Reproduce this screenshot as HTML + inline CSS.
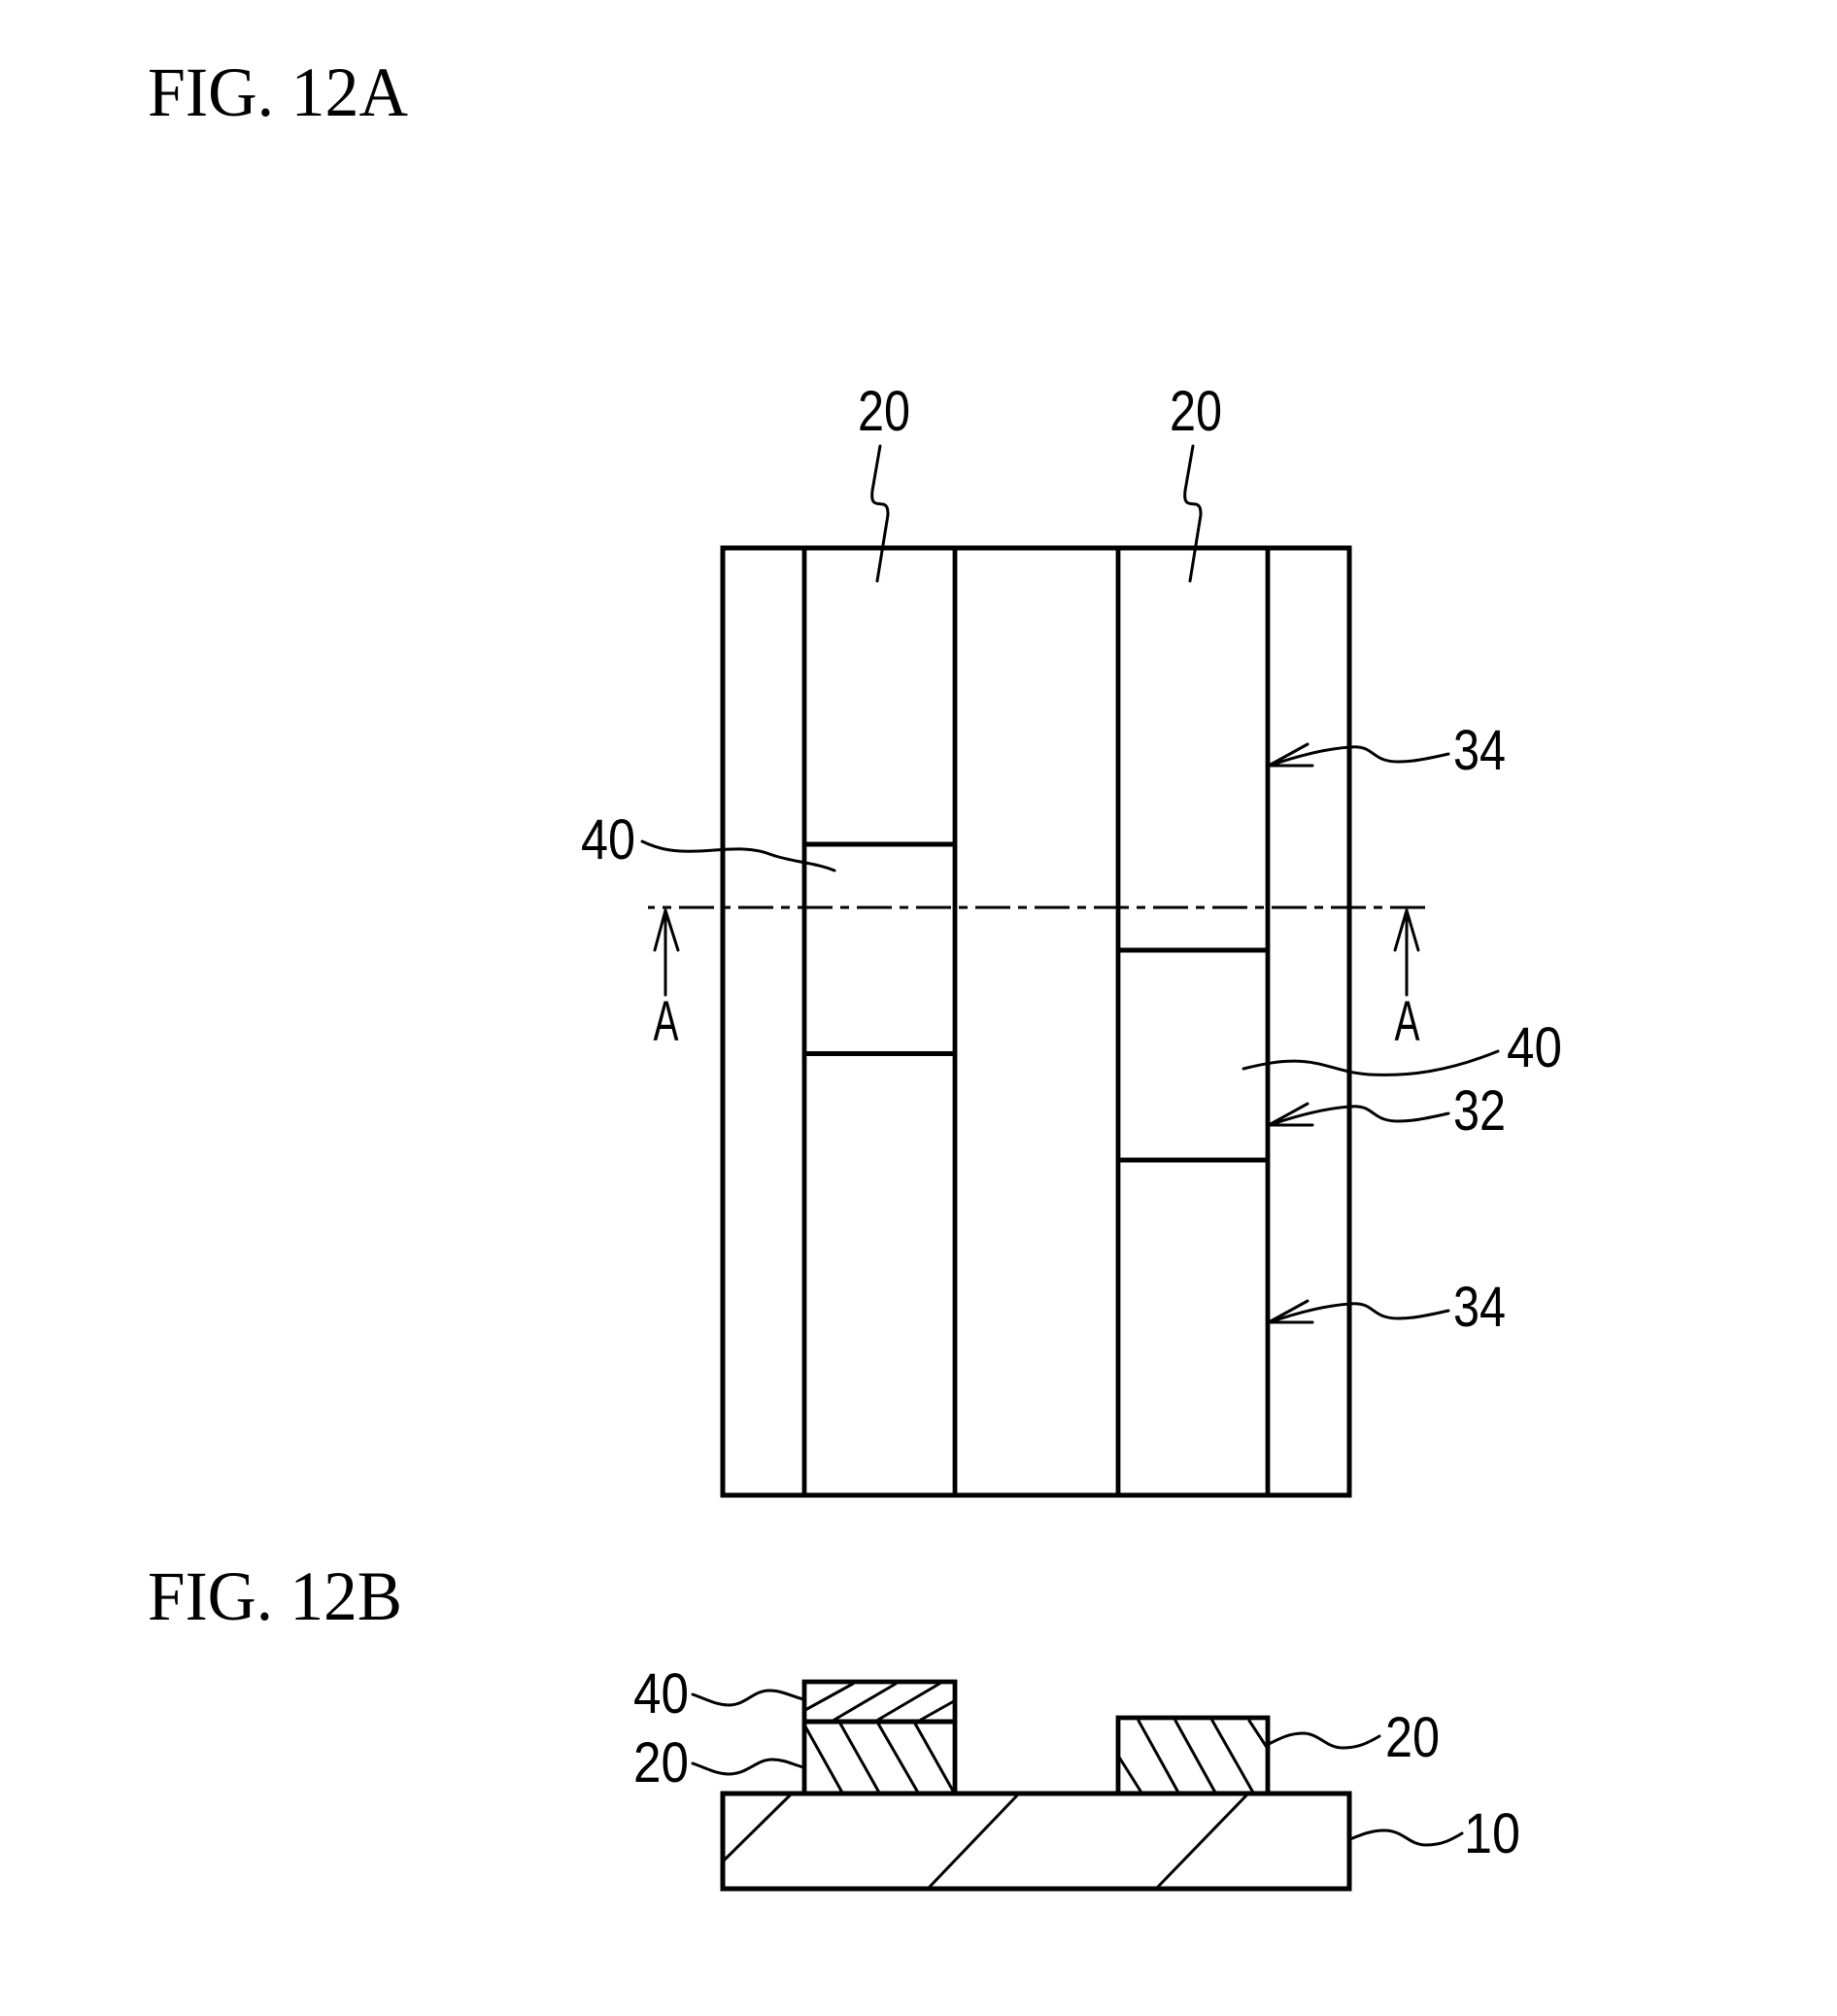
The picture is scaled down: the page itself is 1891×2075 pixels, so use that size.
<!DOCTYPE html>
<html><head><meta charset="utf-8"><title>FIG. 12</title>
<style>html,body{margin:0;padding:0;background:#fff}svg{display:block}
.c{fill:none;stroke:#000;stroke-width:3;stroke-linecap:round;stroke-linejoin:round}
.t{font-family:"Liberation Sans",sans-serif;fill:#000}
.f{font-family:"Liberation Serif",serif;font-size:72px;fill:#000}
</style></head><body>
<svg xmlns="http://www.w3.org/2000/svg" width="1891" height="2075" viewBox="0 0 1891 2075">
<rect width="1891" height="2075" fill="#fff"/>
<text class="f" x="152" y="119" textLength="268" lengthAdjust="spacingAndGlyphs">FIG. 12A</text>
<text class="f" x="152" y="1667" textLength="262" lengthAdjust="spacingAndGlyphs">FIG. 12B</text>

<!-- top view -->
<g fill="none" stroke="#000">
<rect x="744" y="564" width="645" height="975" stroke-width="5"/>
<path d="M828 564V1539M983 564V1539M1151 564V1539M1305 564V1539" stroke-width="4.8"/>
<path d="M828 869H983M828 1084.5H983M1151 978H1305M1151 1194H1305" stroke-width="5"/>
</g>

<!-- section line -->
<path d="M667 934H1467" fill="none" stroke="#000" stroke-width="3" stroke-dasharray="36 8 9 8" stroke-dashoffset="29"/>

<!-- A arrows -->
<g class="c">
<path d="M685 937V1024M685 937L674 978M685 937L698 978"/>
<path d="M1448 937V1024M1448 937L1436 978M1448 937L1460 978"/>
</g>

<!-- labels top -->
<g class="t" font-size="58">
<text x="883" y="443" textLength="54" lengthAdjust="spacingAndGlyphs">20</text>
<text x="1204" y="443" textLength="54" lengthAdjust="spacingAndGlyphs">20</text>
<text x="598" y="884" textLength="56" lengthAdjust="spacingAndGlyphs">40</text>
<text x="1551" y="1098" textLength="57" lengthAdjust="spacingAndGlyphs">40</text>
<text x="1496" y="792" textLength="54" lengthAdjust="spacingAndGlyphs">34</text>
<text x="1496" y="1163" textLength="54" lengthAdjust="spacingAndGlyphs">32</text>
<text x="1496" y="1365" textLength="54" lengthAdjust="spacingAndGlyphs">34</text>
<text x="672.5" y="1071" textLength="26" lengthAdjust="spacingAndGlyphs">A</text>
<text x="1435.5" y="1071" textLength="26" lengthAdjust="spacingAndGlyphs">A</text>
</g>

<!-- leaders top -->
<g class="c">
<path d="M906 459L898 505C897 514 898 518 904 518.5L909 519C913 520 914 523 914 530L903 598"/>
<path d="M1228 459L1220 505C1219 514 1220 518 1226 518.5L1231 519C1235 520 1236 523 1236 530L1225 598"/>
<path d="M661 866C680 875 695 877 720 876C745 875 770 870 795 880C815 887 840 888 859 896"/>
<path d="M1280 1100C1300 1095 1320 1091 1341 1092.5C1365 1094 1380 1104 1410 1106C1450 1108 1490 1103 1542 1082"/>
<path d="M1306 788L1346 766M1306 788H1351"/>
<path d="M1307 788C1330 780 1360 771 1390 769C1410 767 1412 778 1425 782C1440 787 1465 782 1491 776"/>
<path d="M1306 1158L1346 1136M1306 1158H1351"/>
<path d="M1307 1158C1330 1150 1360 1141 1390 1139C1410 1137 1412 1148 1425 1152C1440 1157 1465 1152 1491 1146"/>
<path d="M1306 1361L1346 1339M1306 1361H1351"/>
<path d="M1307 1361C1330 1353 1360 1344 1390 1342C1410 1340 1412 1351 1425 1355C1440 1360 1465 1355 1491 1349"/>
</g>

<!-- section B -->
<g fill="none" stroke="#000">
<rect x="744" y="1846" width="645" height="98" stroke-width="5"/>
<path d="M828 1846V1731H983V1846" stroke-width="4.8"/>
<path d="M828 1772H983" stroke-width="5"/>
<path d="M1151 1846V1768H1305V1846" stroke-width="4.8"/>
</g>
<g class="c">
<path d="M829 1760L878 1733M859 1770L922 1733M904 1770L967 1733M948 1770L982 1751"/>
<path d="M829 1777L867 1845M865 1774L905 1845M904 1774L945 1845M942 1774L982 1845"/>
<path d="M1151 1807L1175 1845M1172 1771L1213 1845M1210 1771L1251 1845M1248 1771L1290 1845M1286 1771L1305 1800"/>
<path d="M813 1848L745 1915M1047 1848L956 1943M1283 1848L1191 1943"/>
<path d="M713 1744C730 1750 738 1755 750 1755C768 1755 775 1740 792 1740C805 1740 815 1746 827 1749"/>
<path d="M713 1815C730 1821 738 1826 750 1826C770 1826 778 1811 795 1811C807 1811 816 1816 827 1819"/>
<path d="M1306 1795C1318 1789 1328 1784 1341 1784C1358 1784 1365 1799 1382 1799C1398 1799 1408 1794 1420 1787"/>
<path d="M1390 1893C1402 1888 1412 1884 1425 1884C1445 1884 1450 1899 1468 1899C1485 1899 1495 1893 1505 1887"/>
</g>
<g class="t" font-size="58">
<text x="652" y="1763" textLength="57" lengthAdjust="spacingAndGlyphs">40</text>
<text x="652" y="1834" textLength="57" lengthAdjust="spacingAndGlyphs">20</text>
<text x="1426" y="1808" textLength="56" lengthAdjust="spacingAndGlyphs">20</text>
<text x="1507" y="1907" textLength="58" lengthAdjust="spacingAndGlyphs">10</text>
</g>
</svg>
</body></html>
